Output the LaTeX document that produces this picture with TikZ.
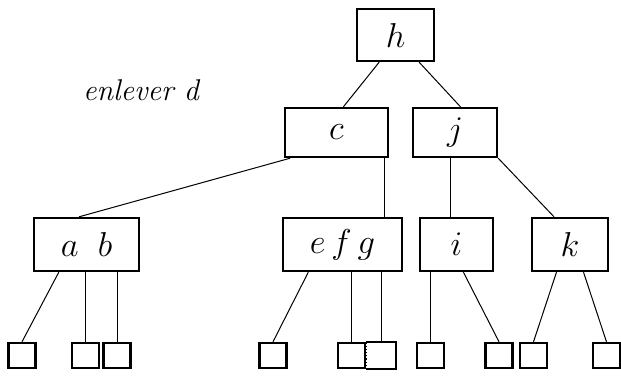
\documentclass[tikz,border=0pt]{standalone}
\usepackage{tikz}
\usepackage{amsmath}

\begin{document}
\begin{tikzpicture}[x=0.5pt,y=-0.5pt]
    \tikzstyle{key} = [draw, rectangle, line width=1.2pt, inner sep=0pt, font=\fontsize{18}{21}\selectfont]
    \tikzstyle{leaf} = [draw, rectangle, line width=1.2pt, inner sep=0pt, minimum width=13.5pt, minimum height=12.5pt]
    \tikzstyle{edge} = [line width=0.5pt]
    \useasboundingbox (0,0) rectangle (621,377);
    \node (note) at (141,90) {\fontsize{15}{18}\selectfont\itshape enlever d};
    \node (h) [key, minimum width=38.5pt, minimum height=26pt] at (395.5,35) {$h$};
    \node (c) [key, minimum width=51.5pt, minimum height=24.5pt] at (336.5,132.5) {$c$};
    \node (j) [key, minimum width=42pt, minimum height=24.5pt] at (455,132.5) {$j$};
    \node (ab) [key, minimum width=52.5pt, minimum height=26.5pt] at (86.5,244.5) {$a\;\;b$};
    \node (efg) [key, minimum width=59.5pt, minimum height=26.5pt] at (342.5,244.5) {$e\,f\,g$\hspace{10pt}};
    \node (i) [key, minimum width=36.5pt, minimum height=26.5pt] at (456.5,244.5) {$i$};
    \node (k) [key, minimum width=38pt, minimum height=26.5pt] at (570,244.5) {$k$};
    % leaves
    \node (l1) [leaf] at (22,355.5) {};
    \node (l2) [leaf] at (85.5,355.5) {};
    \node (l3) [leaf] at (117,355.5) {};
    \node (l4) [leaf] at (273,355.5) {};
    \node (l5) [leaf] at (351.5,355.5) {};
    \node (l6) [leaf, draw=none] at (381,355.5) {};
    \node (l7) [leaf] at (430.5,355.5) {};
    \node (l8) [leaf] at (499,355.5) {};
    \node (l9) [leaf] at (533.5,355.5) {};
    \node (l10) [leaf] at (606.5,355.5) {};
    \draw [line width=1.2pt] (l6.north west) -- (l6.north east) -- (l6.south east) -- (l6.south west);
    \draw [line width=0.6pt, densely dotted] (l6.south west) -- (l6.north west);

    \draw [edge] (h.-121) -- (c.75);
    \draw [edge] (h.-49) -- (j.78);
    \draw [edge] (c.-151) -- (ab.105);
    \draw [edge] (c.-28) -- (c.-28 |- efg.north);
    \draw [edge] (j.-99) -- (j.-99 |- i.north);
    \draw [edge] (j.south east) -- (k.120);
    \draw [edge] (ab.-135) -- (l1.north);
    \draw [edge] (ab.south -| l2.north) -- (l2.north);
    \draw [edge] (ab.south -| l3.north) -- (l3.north);
    \draw [edge] (efg.-141) -- (l4.north);
    \draw [edge] (efg.south -| l5.north) -- (l5.north);
    \draw [edge] (efg.south -| l6.north) -- (l6.north);
    \draw [edge] (i.south -| l7.north) -- (l7.north);
    \draw [edge] (i.-76) -- (l8.north);
    \draw [edge] (k.-116) -- (l9.north);
    \draw [edge] (k.-64) -- (l10.north);
\end{tikzpicture}
\end{document}
